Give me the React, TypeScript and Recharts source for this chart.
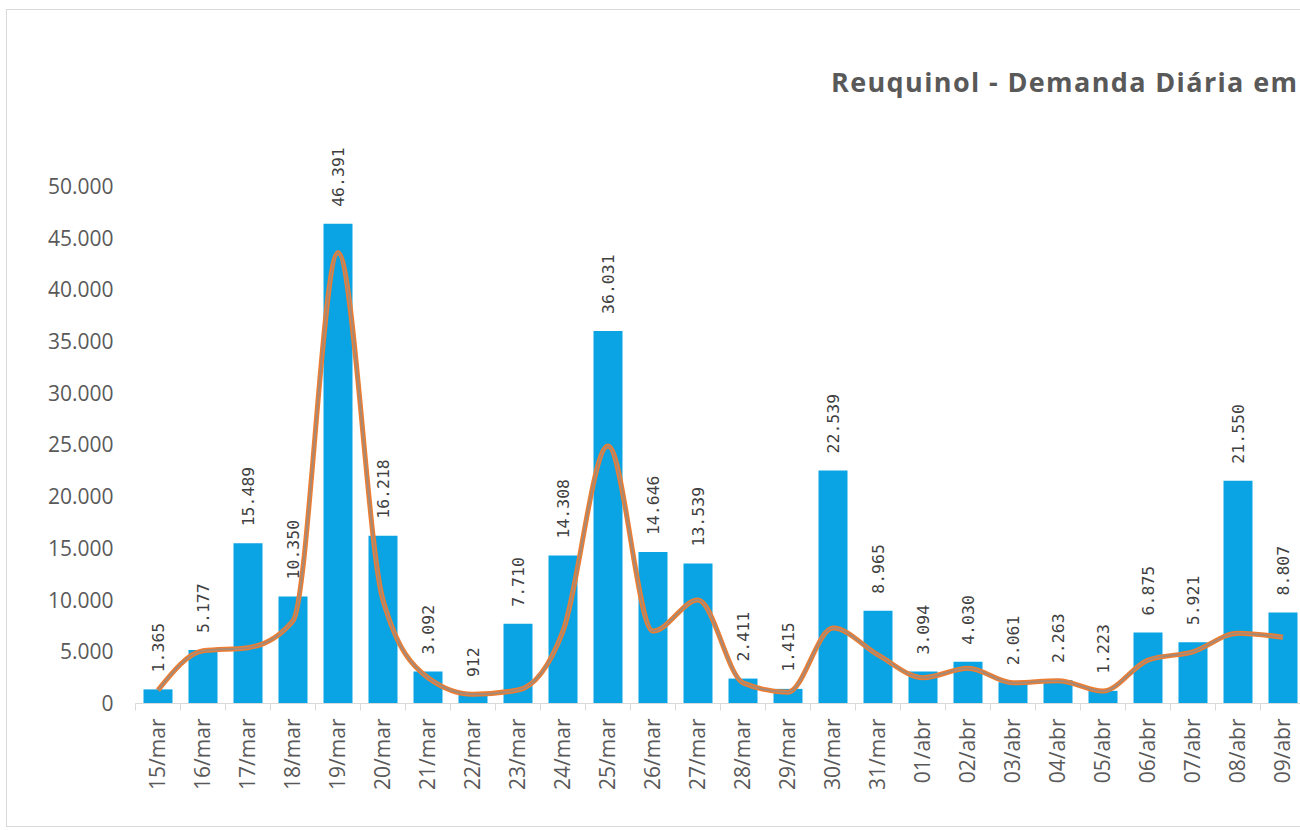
import { ComposedChart, Bar, Line, XAxis, YAxis, LabelList } from "recharts";

const days = [
  "15/mar", "16/mar", "17/mar", "18/mar", "19/mar", "20/mar", "21/mar", "22/mar", "23/mar",
  "24/mar", "25/mar", "26/mar", "27/mar", "28/mar", "29/mar", "30/mar", "31/mar",
  "01/abr", "02/abr", "03/abr", "04/abr", "05/abr", "06/abr", "07/abr", "08/abr", "09/abr",
];

const demanda = [
  1365, 5177, 15489, 10350, 46391, 16218, 3092, 912, 7710,
  14308, 36031, 14646, 13539, 2411, 1415, 22539, 8965,
  3094, 4030, 2061, 2263, 1223, 6875, 5921, 21550, 8807,
];

// linha suavizada (tendência)
const tendencia = [
  1300, 5100, 5400, 8000, 43600, 10000, 2500, 900, 1300,
  7000, 24900, 7000, 10000, 2000, 1100, 7300, 4700,
  2500, 3400, 2000, 2200, 1200, 4200, 5000, 6800, 6400,
];

const yTicks = [0, 5000, 10000, 15000, 20000, 25000, 30000, 35000, 40000, 45000, 50000];

const data = days.map((day, i) => ({ day, demanda: demanda[i], tendencia: tendencia[i] }));

const fmt = (v: number) => String(v).replace(/\B(?=(\d{3})+(?!\d))/g, ".");

const CHART_W = 1400;
const CHART_H = 830;
const BAND = (CHART_W - 55.5 - 80 - 94.5) / days.length;

function DayTick(props: any) {
  const { x, y, payload } = props;
  const ty = y + 15;
  return (
    <g>
      <line x1={x - BAND / 2} x2={x - BAND / 2} y1={y} y2={y + 7} stroke="#d9d9d9" />
      <text
        x={x}
        y={ty}
        dy="0.35em"
        transform={`rotate(-90 ${x} ${ty})`}
        textAnchor="end"
        fill="#595959"
        fontSize={21}
        fontFamily="Open Sans"
      >
        {payload.value}
      </text>
    </g>
  );
}

function ValueLabel(props: any) {
  const { x, y, width, value } = props;
  const cx = x + width / 2;
  const ty = y - 17;
  return (
    <text
      x={cx}
      y={ty}
      dy="0.35em"
      transform={`rotate(-90 ${cx} ${ty})`}
      textAnchor="start"
      fill="#404040"
      fontSize={16.5}
      fontFamily="DejaVu Sans Mono"
    >
      {fmt(value)}
    </text>
  );
}

export default function App() {
  return (
    <div
      style={{
        position: "fixed",
        left: 0,
        top: 0,
        width: 1300,
        height: 830,
        overflow: "hidden",
        background: "#fff",
      }}
    >
      <div
        style={{
          position: "absolute",
          left: 6,
          top: 9,
          width: 1400,
          height: 818,
          border: "1px solid #d9d9d9",
          boxSizing: "border-box",
        }}
      />
      <svg width={1300} height={120} style={{ position: "absolute", left: 0, top: 0 }}>
        <text
          x={831}
          y={92}
          fill="#595959"
          fontSize={27}
          fontWeight={700}
          fontFamily="Open Sans"
          textLength={466}
          lengthAdjust="spacing"
        >
          Reuquinol - Demanda Diária em
        </text>
      </svg>
      <div style={{ position: "absolute", left: 0, top: 0 }}>
        <ComposedChart
          width={CHART_W}
          height={CHART_H}
          data={data}
          margin={{ top: 186.5, right: 94.5, bottom: 46.5, left: 55.5 }}
        >
          <XAxis
            dataKey="day"
            interval={0}
            height={80}
            tickSize={0}
            tickMargin={0}
            tickLine={false}
            axisLine={{ stroke: "#d9d9d9" }}
            tick={<DayTick />}
          />
          <YAxis
            width={80}
            domain={[0, 50000]}
            ticks={yTicks}
            tickFormatter={fmt}
            axisLine={false}
            tickLine={false}
            tickSize={0}
            tickMargin={22}
            tick={{ fill: "#595959", fontSize: 21, fontFamily: "Open Sans" }}
          />
          <Bar dataKey="demanda" fill="#0AA3E3" barSize={29} isAnimationActive={false}>
            <LabelList dataKey="demanda" content={<ValueLabel />} />
          </Bar>
          <Line
            type="monotone"
            dataKey="tendencia"
            stroke="#ED7D31"
            strokeWidth={5}
            dot={false}
            activeDot={false}
            isAnimationActive={false}
          />
          <Line
            type="monotone"
            dataKey="tendencia"
            stroke="#A58A78"
            strokeWidth={2}
            dot={false}
            activeDot={false}
            isAnimationActive={false}
          />
        </ComposedChart>
      </div>
    </div>
  );
}
